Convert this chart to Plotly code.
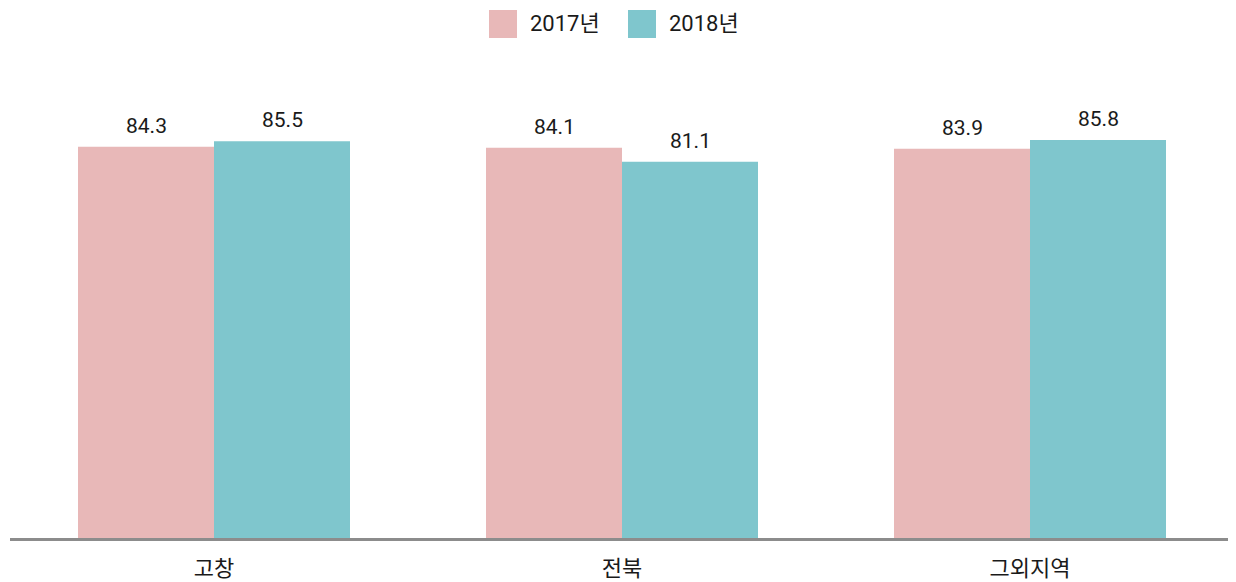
import plotly.graph_objects as go

categories = ["고창", "전북", "그외지역"]
series_names = ["2017년", "2018년"]
values_2017 = [84.3, 84.1, 83.9]
values_2018 = [85.5, 81.1, 85.8]

colors = ["#e8b8b8", "#7fc6cd"]
FONT = "Roboto, Noto Sans CJK KR, sans-serif"
W, H = 1228, 582
ML, MR, MT, MB = 2, 2, 66, 52
PW, PH = W - ML - MR, H - MT - MB

fig = go.Figure()
for name, vals, col in zip(series_names, [values_2017, values_2018], colors):
    fig.add_trace(go.Bar(x=categories, y=vals, name=name, marker=dict(color=col, line=dict(width=0)),
                         showlegend=False, hoverinfo="x+y"))

# value labels
for i, vals in enumerate([values_2017, values_2018]):
    shift = -68 if i == 0 else 68
    for c, v in zip(categories, vals):
        fig.add_annotation(x=c, y=v, text=f"{v:.1f}", showarrow=False, xref="x", yref="y",
                           yanchor="bottom", xshift=shift, yshift=7,
                           font=dict(family=FONT, size=21, color="#1a1a1a"))

# manual legend (pixel positions within the figure)
def px_x(p):
    return (p - ML) / PW

def px_y(p):
    return (H - MB - p) / PH

legend_items = [(481, 520), (620, 659)]
for (sx, tx), name, col in zip(legend_items, series_names, colors):
    fig.add_shape(type="rect", xref="paper", yref="paper",
                  x0=px_x(sx), x1=px_x(sx + 28), y0=px_y(30), y1=px_y(2),
                  fillcolor=col, line=dict(width=0))
    fig.add_annotation(xref="paper", yref="paper", x=px_x(tx), y=px_y(16), text=name,
                       showarrow=False, xanchor="left", yanchor="middle",
                       font=dict(family=FONT, size=22, color="#1a1a1a"))

fig.update_layout(
    width=W, height=H,
    margin=dict(l=ML, r=MR, t=MT, b=MB),
    barmode="group", bargap=1/3, bargroupgap=0,
    plot_bgcolor="white", paper_bgcolor="white",
    font=dict(family=FONT, color="#1a1a1a"),
    xaxis=dict(showline=True, linecolor="#8c8c8c", linewidth=3, showgrid=False,
               ticks="", ticklabelstandoff=9, automargin=False,
               tickfont=dict(family=FONT, size=22, color="#1a1a1a")),
    yaxis=dict(range=[0, 100], visible=False, showgrid=False, zeroline=False,
               automargin=False),
)

fig.write_html("out.html")
